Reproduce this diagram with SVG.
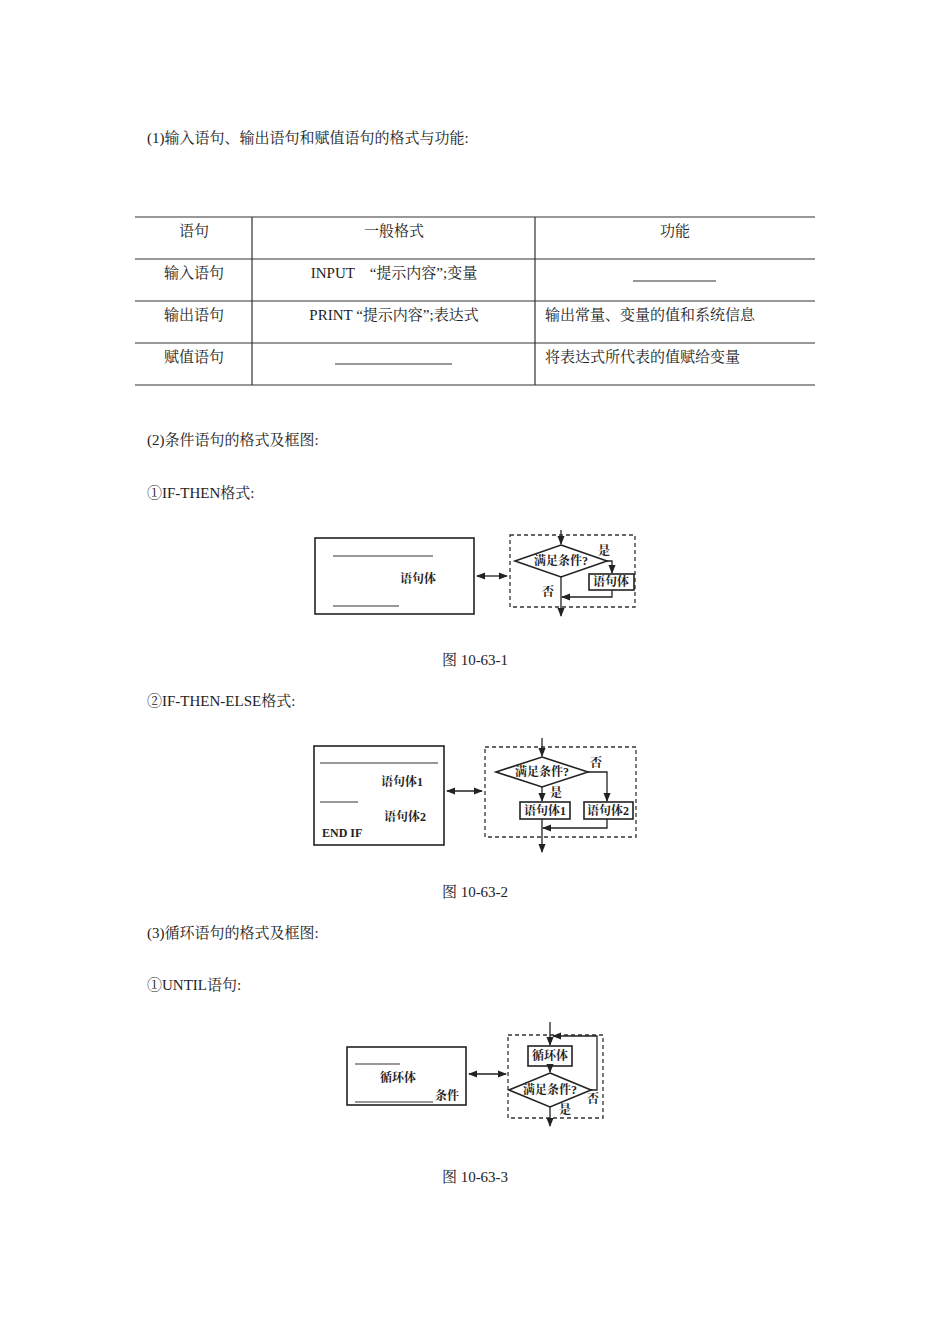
<svg xmlns="http://www.w3.org/2000/svg" width="950" height="1344" viewBox="0 0 950 1344">
<defs>
<marker id="a" viewBox="0 0 10 10" refX="9" refY="5" markerWidth="7" markerHeight="7" orient="auto-start-reverse"><path d="M0,1 L10,5 L0,9 z" fill="#222"/></marker>
<style>
text{font-family:"Liberation Serif","Noto Serif CJK SC","Noto Sans CJK SC",serif;fill:#222}
.t{font-size:15px}
.s{font-size:12px;font-weight:bold}
.c{text-anchor:middle}
.l{stroke:#333;stroke-width:1.2;fill:none}
.b{stroke:#222;stroke-width:1.6;fill:#fff}
.d{stroke:#333;stroke-width:1.3;fill:none;stroke-dasharray:4,3}
.ar{stroke:#222;stroke-width:1.3;fill:none;marker-end:url(#a)}
.da{stroke:#222;stroke-width:1.3;fill:none;marker-end:url(#a);marker-start:url(#a)}
</style>
</defs>
<rect width="950" height="1344" fill="#fff"/>
<g id="texts">
<text class="t" x="147" y="143">(1)输入语句、输出语句和赋值语句的格式与功能:</text>
<text class="t" x="147" y="445">(2)条件语句的格式及框图:</text>
<text class="t" x="147" y="498">①IF-THEN格式:</text>
<text class="t c" x="475" y="665">图 10-63-1</text>
<text class="t" x="147" y="706">②IF-THEN-ELSE格式:</text>
<text class="t c" x="475" y="897">图 10-63-2</text>
<text class="t" x="147" y="938">(3)循环语句的格式及框图:</text>
<text class="t" x="147" y="990">①UNTIL语句:</text>
<text class="t c" x="475" y="1182">图 10-63-3</text>
</g>
<g id="table">
<path class="l" d="M135,217H815M135,259H815M135,301H815M135,343H815M135,385H815M252,217V385M535,217V385"/>
<text class="t c" x="194" y="236">语句</text>
<text class="t c" x="394" y="236">一般格式</text>
<text class="t c" x="675" y="236">功能</text>
<text class="t c" x="194" y="278">输入语句</text>
<text class="t c" x="394" y="278">INPUT　“提示内容”;变量</text>
<path class="l" d="M633,281H716"/>
<text class="t c" x="194" y="320">输出语句</text>
<text class="t c" x="394" y="320">PRINT “提示内容”;表达式</text>
<text class="t" x="545" y="320">输出常量、变量的值和系统信息</text>
<text class="t c" x="194" y="362">赋值语句</text>
<path class="l" d="M335,364H452"/>
<text class="t" x="545" y="362">将表达式所代表的值赋给变量</text>
</g>
<g id="fig1">
<rect class="b" x="315" y="538" width="159" height="76"/>
<path class="l" d="M333,556H433M333,606H399"/>
<text class="s c" x="418" y="583">语句体</text>
<rect class="d" x="510" y="535" width="125" height="72"/>
<polygon class="b" points="561,545 607,561 561,577 515,561"/>
<text class="s c" x="561" y="565">满足条件?</text>
<text class="s" x="598" y="555">是</text>
<rect class="b" x="589" y="574" width="45" height="16"/>
<text class="s c" x="611" y="586">语句体</text>
<text class="s" x="542" y="596">否</text>
</g>
<g id="fig2">
<rect class="b" x="314" y="746" width="130" height="99"/>
<path class="l" d="M320,763H438M320,802H358"/>
<text class="s c" x="402" y="786">语句体1</text>
<text class="s c" x="405" y="821">语句体2</text>
<text class="s" x="322" y="837">END IF</text>
<rect class="d" x="485" y="747" width="151" height="90"/>
<polygon class="b" points="542,757 588,772 542,787 496,772"/>
<text class="s c" x="542" y="776">满足条件?</text>
<text class="s" x="590" y="767">否</text>
<text class="s" x="550" y="797">是</text>
<rect class="b" x="520" y="802" width="50" height="17"/>
<text class="s c" x="545" y="815">语句体1</text>
<rect class="b" x="584" y="802" width="49" height="17"/>
<text class="s c" x="608" y="815">语句体2</text>
</g>
<g id="fig3">
<rect class="b" x="347" y="1047" width="119" height="58"/>
<path class="l" d="M355,1064H400M355,1102H433"/>
<text class="s c" x="398" y="1082">循环体</text>
<text class="s" x="435" y="1100">条件</text>
<rect class="d" x="508" y="1035" width="95" height="83"/>
<rect class="b" x="528" y="1046" width="44" height="20"/>
<text class="s c" x="550" y="1060">循环体</text>
<polygon class="b" points="550,1073 591,1090 550,1107 509,1090"/>
<text class="s c" x="550" y="1094">满足条件?</text>
<text class="s" x="587" y="1103">否</text>
<text class="s" x="559" y="1114">是</text>
</g>
<g id="connectors">
<path class="da" d="M477,576H507"/>
<path class="ar" d="M561,530V544"/>
<path class="ar" d="M607,561H612V573"/>
<path class="ar" d="M612,590V597H562"/>
<path class="ar" d="M561,577V616"/>
<path class="da" d="M447,791H482"/>
<path class="ar" d="M542,738V756"/>
<path class="ar" d="M588,772H607V801"/>
<path class="ar" d="M542,787V801"/>
<path class="ar" d="M542,819V852"/>
<path class="ar" d="M607,819V828H543"/>
<path class="da" d="M469,1074H506"/>
<path class="ar" d="M550,1022V1045"/>
<path class="ar" d="M550,1066V1072"/>
<path class="ar" d="M591,1090H597V1036H553"/>
<path class="ar" d="M550,1107V1126"/>
</g>
</svg>
